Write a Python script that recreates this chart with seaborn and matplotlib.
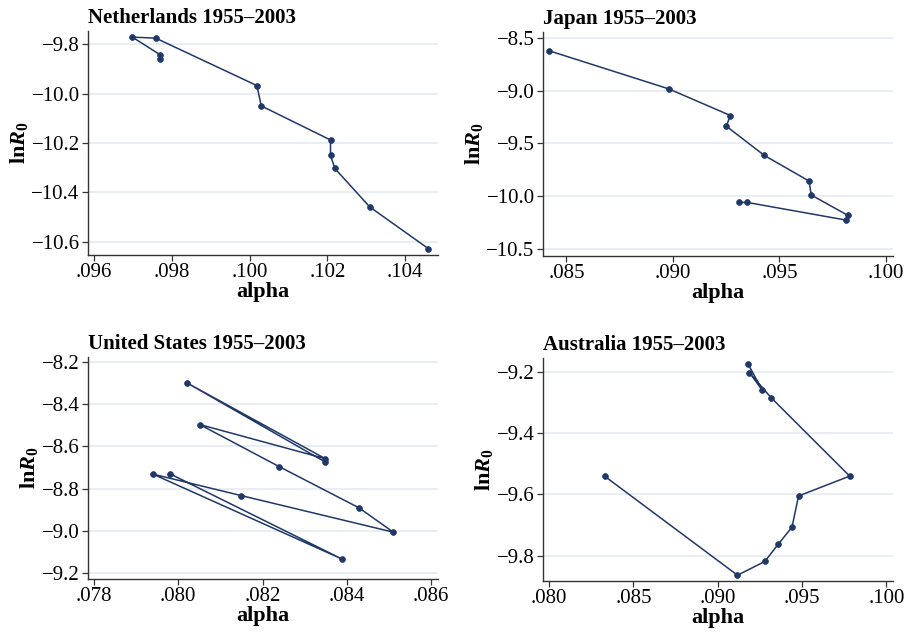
import matplotlib
matplotlib.use("Agg")
import matplotlib.pyplot as plt
import seaborn as sns
import pandas as pd
from matplotlib.ticker import FuncFormatter

# ---- data ----
nl_alpha = [0.09770, 0.09770, 0.09699, 0.09759, 0.10019, 0.10030, 0.10208, 0.10208, 0.10219, 0.10309, 0.10459]
nl_lnr0 = [-9.861, -9.843, -9.772, -9.776, -9.968, -10.050, -10.188, -10.250, -10.303, -10.459, -10.627]

jp_alpha = [0.08417, 0.08980, 0.09270, 0.09250, 0.09429, 0.09639, 0.09649, 0.09821, 0.09810, 0.09349, 0.09309]
jp_lnr0 = [-8.623, -8.984, -9.236, -9.336, -9.613, -9.855, -9.987, -10.179, -10.223, -10.057, -10.057]

us_alpha = [0.08349, 0.08021, 0.08349, 0.08051, 0.08240, 0.08429, 0.08510, 0.08150, 0.07940, 0.08389, 0.07980]
us_lnr0 = [-8.674, -8.299, -8.658, -8.496, -8.696, -8.891, -9.006, -8.833, -8.731, -9.134, -8.729]

au_alpha = [0.08331, 0.09117, 0.09279, 0.09358, 0.09440, 0.09479, 0.09782, 0.09317, 0.09188, 0.09265, 0.09179]
au_lnr0 = [-9.541, -9.864, -9.819, -9.763, -9.707, -9.605, -9.540, -9.284, -9.202, -9.260, -9.173]

titles = ["Netherlands 1955\u20132003", "Japan 1955\u20132003",
          "United States 1955\u20132003", "Australia 1955\u20132003"]

nl_xticks = [0.096, 0.098, 0.100, 0.102, 0.104]
nl_yticks = [-9.8, -10.0, -10.2, -10.4, -10.6]
jp_xticks = [0.085, 0.090, 0.095, 0.100]
jp_yticks = [-8.5, -9.0, -9.5, -10.0, -10.5]
us_xticks = [0.078, 0.080, 0.082, 0.084, 0.086]
us_yticks = [-8.2, -8.4, -8.6, -8.8, -9.0, -9.2]
au_xticks = [0.080, 0.085, 0.090, 0.095, 0.100]
au_yticks = [-9.2, -9.4, -9.6, -9.8]

# ---- style ----
sns.set_theme(style="white")
plt.rcParams["font.family"] = ["Liberation Serif", "DejaVu Serif"]
plt.rcParams["mathtext.fontset"] = "custom"
plt.rcParams["mathtext.rm"] = "Liberation Serif"
plt.rcParams["mathtext.bf"] = "Liberation Serif:bold"
plt.rcParams["mathtext.it"] = "Liberation Serif:italic"
plt.rcParams["mathtext.bfit"] = "Liberation Serif:italic:bold"
plt.rcParams["axes.unicode_minus"] = True
plt.rcParams["text.color"] = "black"
plt.rcParams["axes.labelcolor"] = "black"
plt.rcParams["axes.titlecolor"] = "black"

NAVY = "#1f3868"
GRID = "#e3e8f3"
SPINE = "#333333"

fig = plt.figure(figsize=(9.09, 6.33), dpi=100)

positions = [
    [0.0968, 0.5972, 0.385, 0.3539],
    [0.5974, 0.5956, 0.385, 0.3538],
    [0.0968, 0.0853, 0.385, 0.3507],
    [0.5974, 0.0821, 0.385, 0.3523],
]
datasets = [
    (nl_alpha, nl_lnr0, nl_xticks, nl_yticks, (0.09585, 0.10484), (-10.653, -9.747)),
    (jp_alpha, jp_lnr0, jp_xticks, jp_yticks, (0.08390, 0.10033), (-10.563, -8.447)),
    (us_alpha, us_lnr0, us_xticks, us_yticks, (0.07786, 0.08616), (-9.228, -8.176)),
    (au_alpha, au_lnr0, au_xticks, au_yticks, (0.07964, 0.10039), (-9.883, -9.154)),
]

xfmt = FuncFormatter(lambda v, p: ("%.3f" % v).lstrip("0"))
yfmt = FuncFormatter(lambda v, p: ("%.1f" % v).replace("-", "\u2212"))

for pos, (xs, ys, xt, yt, xl, yl), title in zip(positions, datasets, titles):
    ax = fig.add_axes(pos)
    df = pd.DataFrame({"alpha": xs, "lnR0": ys})
    sns.lineplot(data=df, x="alpha", y="lnR0", ax=ax, sort=False, estimator=None,
                 color=NAVY, linewidth=1.1, marker="o", markersize=4.2,
                 markeredgecolor=NAVY, markeredgewidth=0.5)
    ax.set_xlim(*xl)
    ax.set_ylim(*yl)
    ax.set_xticks(xt)
    ax.set_yticks(yt)
    ax.xaxis.set_major_formatter(xfmt)
    ax.yaxis.set_major_formatter(yfmt)
    ax.yaxis.grid(True, color=GRID, linewidth=1.1)
    ax.xaxis.grid(False)
    ax.set_axisbelow(True)
    for s in ["top", "right"]:
        ax.spines[s].set_visible(False)
    for s in ["left", "bottom"]:
        ax.spines[s].set_color(SPINE)
        ax.spines[s].set_linewidth(1.0)
    ax.tick_params(axis="both", which="major", direction="out", length=4, width=0.9,
                   color=SPINE, labelsize=15, pad=2, labelcolor="black",
                   bottom=True, left=True)
    ax.set_xlabel("alpha", fontsize=16, fontweight="bold", labelpad=0, color="black")
    ax.set_ylabel(r"$\mathbf{ln}\mathbfit{R}_{\mathbf{0}}$", fontsize=16, labelpad=1, color="black")
    ax.set_title(title, loc="left", fontsize=15, fontweight="bold", pad=6, color="black")

fig.savefig("out.png", dpi=100)
